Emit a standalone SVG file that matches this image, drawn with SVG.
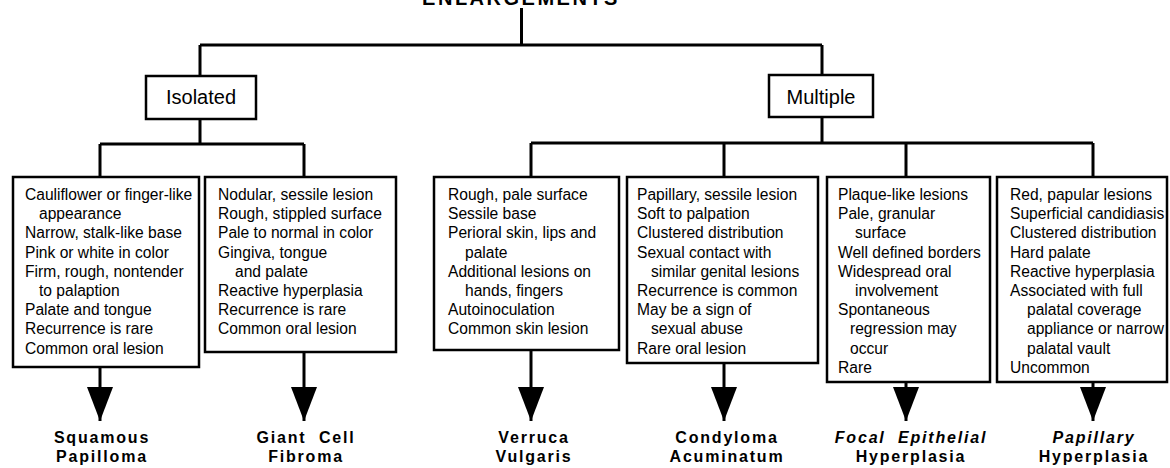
<svg xmlns="http://www.w3.org/2000/svg" width="1170" height="468" viewBox="0 0 1170 468">
<style>
  .bg{fill:#fff}
  .box{fill:#fff;stroke:#000;stroke-width:2.5}
  .ln{fill:none;stroke:#000;stroke-width:3}
  .hd{font-family:"Liberation Sans",Arial,sans-serif;font-size:20px;fill:#000}
  .tx{font-family:"Liberation Sans",Arial,sans-serif;font-size:15.6px;fill:#000}
  .lb{font-family:"Liberation Sans",Arial,sans-serif;font-size:16px;font-weight:bold;letter-spacing:1.8px;fill:#000;text-anchor:middle}
  .it{font-style:italic}
  .tt{font-family:"Liberation Sans",Arial,sans-serif;font-size:20px;font-weight:bold;letter-spacing:2.5px;fill:#000;text-anchor:middle}
</style>
<defs>
  <marker id="ah" viewBox="0 0 34 26" markerWidth="34" markerHeight="26" refX="34" refY="13" orient="auto" markerUnits="userSpaceOnUse">
    <path d="M0,0 L34,13 L0,26 Z" fill="#000"/>
  </marker>
</defs>
<rect class="bg" x="0" y="0" width="1170" height="468"/>

<g id="connectors">
  <path class="ln" d="M521.5,8 V45 M200,45 H822 M200,45 V76 M822,45 V75"/>
  <path class="ln" d="M200,119 V144 M100,144 H304 M100,144 V177 M304,144 V177"/>
  <path class="ln" d="M822,117 V143 M531,143 H1093 M531,143 V177 M724,143 V177 M906,143 V177 M1093,143 V177"/>
  <line class="ln" x1="100" y1="367" x2="100" y2="421" marker-end="url(#ah)"/>
  <line class="ln" x1="304" y1="352" x2="304" y2="421" marker-end="url(#ah)"/>
  <line class="ln" x1="531" y1="350" x2="531" y2="421" marker-end="url(#ah)"/>
  <line class="ln" x1="724" y1="363" x2="724" y2="421" marker-end="url(#ah)"/>
  <line class="ln" x1="906" y1="382" x2="906" y2="421" marker-end="url(#ah)"/>
  <line class="ln" x1="1093" y1="382" x2="1093" y2="421" marker-end="url(#ah)"/>
</g>

<g id="title">
  <text class="tt" x="521" y="5">ENLARGEMENTS</text>
</g>

<g id="isolated">
  <rect class="box" x="146" y="76" width="110" height="43"/>
  <text class="hd" x="201" y="104" text-anchor="middle">Isolated</text>
</g>

<g id="multiple">
  <rect class="box" x="769" y="75" width="104" height="42"/>
  <text class="hd" x="821" y="104" text-anchor="middle">Multiple</text>
</g>

<g id="squamous-papilloma">
  <rect class="box" x="13" y="177" width="186" height="190"/>
  <text class="tx" y="200">
    <tspan x="25">Cauliflower or finger-like</tspan>
    <tspan x="39" dy="19.2">appearance</tspan>
    <tspan x="25" dy="19.2">Narrow, stalk-like base</tspan>
    <tspan x="25" dy="19.2">Pink or white in color</tspan>
    <tspan x="25" dy="19.2">Firm, rough, nontender</tspan>
    <tspan x="39" dy="19.2">to palaption</tspan>
    <tspan x="25" dy="19.2">Palate and tongue</tspan>
    <tspan x="25" dy="19.2">Recurrence is rare</tspan>
    <tspan x="25" dy="19.2">Common oral lesion</tspan>
  </text>
  <text class="lb" x="102" y="443">Squamous</text>
  <text class="lb" x="102" y="462">Papilloma</text>
</g>

<g id="giant-cell-fibroma">
  <rect class="box" x="205" y="177" width="191" height="175"/>
  <text class="tx" y="200">
    <tspan x="218">Nodular, sessile lesion</tspan>
    <tspan x="218" dy="19.2">Rough, stippled surface</tspan>
    <tspan x="218" dy="19.2">Pale to normal in color</tspan>
    <tspan x="218" dy="19.2">Gingiva, tongue</tspan>
    <tspan x="235" dy="19.2">and palate</tspan>
    <tspan x="218" dy="19.2">Reactive hyperplasia</tspan>
    <tspan x="218" dy="19.2">Recurrence is rare</tspan>
    <tspan x="218" dy="19.2">Common oral lesion</tspan>
  </text>
  <text class="lb" x="306" y="443" xml:space="preserve">Giant  Cell</text>
  <text class="lb" x="306" y="462">Fibroma</text>
</g>

<g id="verruca-vulgaris">
  <rect class="box" x="434" y="177" width="185" height="173"/>
  <text class="tx" y="200">
    <tspan x="448">Rough, pale surface</tspan>
    <tspan x="448" dy="19.2">Sessile base</tspan>
    <tspan x="448" dy="19.2">Perioral skin, lips and</tspan>
    <tspan x="465" dy="19.2">palate</tspan>
    <tspan x="448" dy="19.2">Additional lesions on</tspan>
    <tspan x="465" dy="19.2">hands, fingers</tspan>
    <tspan x="448" dy="19.2">Autoinoculation</tspan>
    <tspan x="448" dy="19.2">Common skin lesion</tspan>
  </text>
  <text class="lb" x="534" y="443">Verruca</text>
  <text class="lb" x="534" y="462">Vulgaris</text>
</g>

<g id="condyloma-acuminatum">
  <rect class="box" x="627" y="177" width="191" height="186"/>
  <text class="tx" y="200">
    <tspan x="637">Papillary, sessile lesion</tspan>
    <tspan x="637" dy="19.2">Soft to palpation</tspan>
    <tspan x="637" dy="19.2">Clustered distribution</tspan>
    <tspan x="637" dy="19.2">Sexual contact with</tspan>
    <tspan x="651" dy="19.2">similar genital lesions</tspan>
    <tspan x="637" dy="19.2">Recurrence is common</tspan>
    <tspan x="637" dy="19.2">May be a sign of</tspan>
    <tspan x="651" dy="19.2">sexual abuse</tspan>
    <tspan x="637" dy="19.2">Rare oral lesion</tspan>
  </text>
  <text class="lb" x="727" y="443">Condyloma</text>
  <text class="lb" x="727" y="462">Acuminatum</text>
</g>

<g id="focal-epithelial-hyperplasia">
  <rect class="box" x="827" y="177" width="163" height="205"/>
  <text class="tx" y="200">
    <tspan x="838">Plaque-like lesions</tspan>
    <tspan x="838" dy="19.2">Pale, granular</tspan>
    <tspan x="855" dy="19.2">surface</tspan>
    <tspan x="838" dy="19.2">Well defined borders</tspan>
    <tspan x="838" dy="19.2">Widespread oral</tspan>
    <tspan x="855" dy="19.2">involvement</tspan>
    <tspan x="838" dy="19.2">Spontaneous</tspan>
    <tspan x="850" dy="19.2">regression may</tspan>
    <tspan x="850" dy="19.2">occur</tspan>
    <tspan x="838" dy="19.2">Rare</tspan>
  </text>
  <text class="lb it" x="911" y="443" xml:space="preserve">Focal  Epithelial</text>
  <text class="lb" x="911" y="462">Hyperplasia</text>
</g>

<g id="papillary-hyperplasia">
  <rect class="box" x="997" y="177" width="170" height="205"/>
  <text class="tx" y="200">
    <tspan x="1010">Red, papular lesions</tspan>
    <tspan x="1010" dy="19.2">Superficial candidiasis</tspan>
    <tspan x="1010" dy="19.2">Clustered distribution</tspan>
    <tspan x="1010" dy="19.2">Hard palate</tspan>
    <tspan x="1010" dy="19.2">Reactive hyperplasia</tspan>
    <tspan x="1010" dy="19.2">Associated with full</tspan>
    <tspan x="1027" dy="19.2">palatal coverage</tspan>
    <tspan x="1027" dy="19.2">appliance or narrow</tspan>
    <tspan x="1027" dy="19.2">palatal vault</tspan>
    <tspan x="1010" dy="19.2">Uncommon</tspan>
  </text>
  <text class="lb it" x="1094" y="443">Papillary</text>
  <text class="lb" x="1094" y="462">Hyperplasia</text>
</g>
</svg>
